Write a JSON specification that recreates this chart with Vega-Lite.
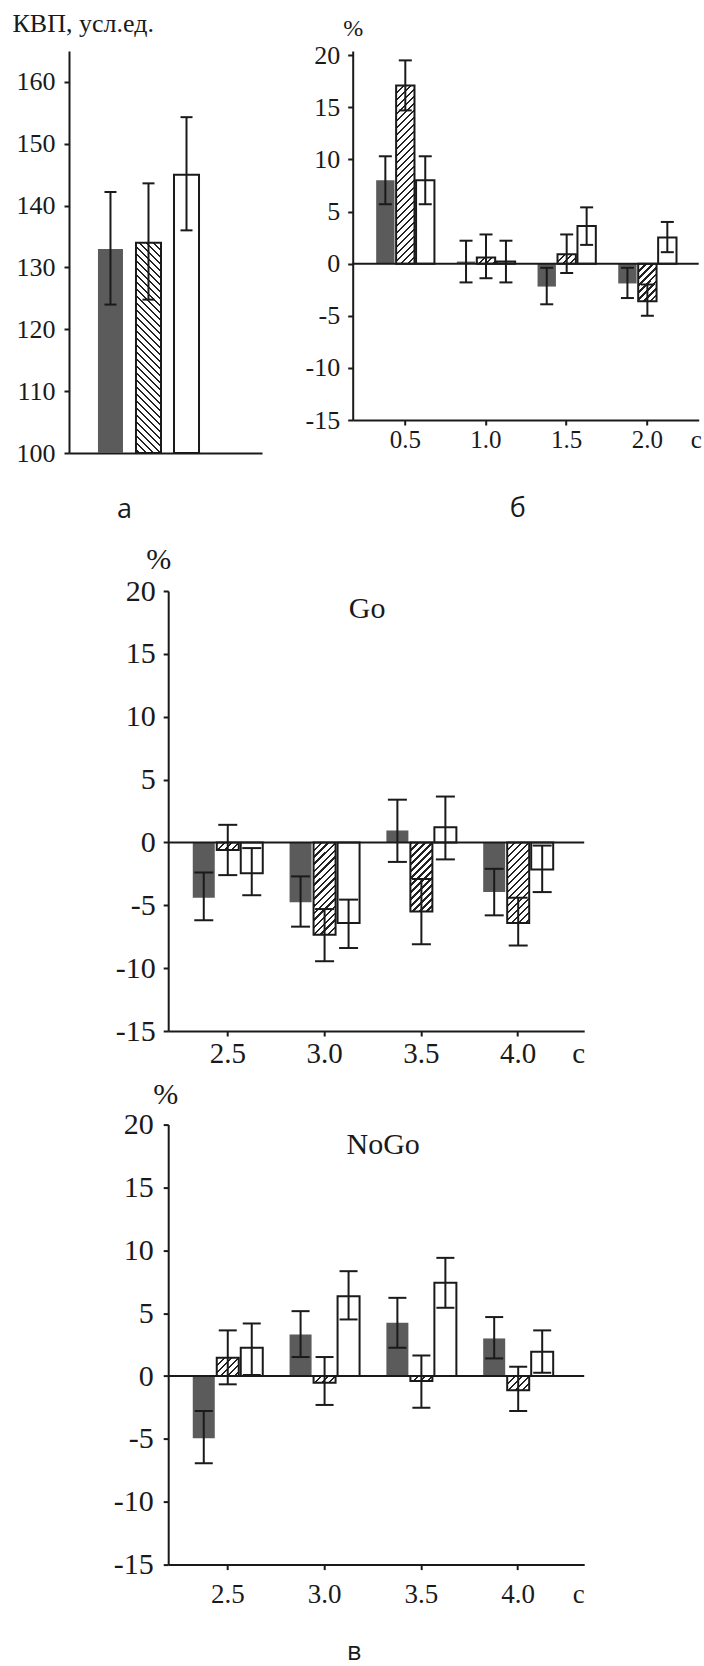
{
  "$schema": "https://vega.github.io/schema/vega-lite/v6.json",
  "padding": {"left": 12, "top": 10, "right": 0, "bottom": 3},
  "background": "white",
  "config": {
    "view": {"stroke": null},
    "axis": {"domainColor": "#1a1a1a", "domainWidth": 2, "tickColor": "#1a1a1a", "tickWidth": 2, "tickSize": 5, "labelColor": "#1a1a1a", "labelFont": "Liberation Serif", "titleFont": "Liberation Serif", "titleColor": "#1a1a1a", "titleFontWeight": "normal", "grid": false, "labelOverlap": false},
    "title": {"font": "Open Sans", "fontWeight": "normal", "color": "#1a1a1a"}
  },
  "params": [{"name": "hatch", "value": [
    {"offset":0,"color":"#222"},{"offset":0.0092,"color":"#222"},{"offset":0.0092,"color":"#fff"},{"offset":0.0292,"color":"#fff"},
    {"offset":0.0292,"color":"#222"},{"offset":0.0383,"color":"#222"},{"offset":0.0383,"color":"#fff"},{"offset":0.0583,"color":"#fff"},
    {"offset":0.0583,"color":"#222"},{"offset":0.0675,"color":"#222"},{"offset":0.0675,"color":"#fff"},{"offset":0.0875,"color":"#fff"},
    {"offset":0.0875,"color":"#222"},{"offset":0.0967,"color":"#222"},{"offset":0.0967,"color":"#fff"},{"offset":0.1167,"color":"#fff"},
    {"offset":0.1167,"color":"#222"},{"offset":0.1258,"color":"#222"},{"offset":0.1258,"color":"#fff"},{"offset":0.1458,"color":"#fff"},
    {"offset":0.1458,"color":"#222"},{"offset":0.155,"color":"#222"},{"offset":0.155,"color":"#fff"},{"offset":0.175,"color":"#fff"},
    {"offset":0.175,"color":"#222"},{"offset":0.1842,"color":"#222"},{"offset":0.1842,"color":"#fff"},{"offset":0.2042,"color":"#fff"},
    {"offset":0.2042,"color":"#222"},{"offset":0.2133,"color":"#222"},{"offset":0.2133,"color":"#fff"},{"offset":0.2333,"color":"#fff"},
    {"offset":0.2333,"color":"#222"},{"offset":0.2425,"color":"#222"},{"offset":0.2425,"color":"#fff"},{"offset":0.2625,"color":"#fff"},
    {"offset":0.2625,"color":"#222"},{"offset":0.2717,"color":"#222"},{"offset":0.2717,"color":"#fff"},{"offset":0.2917,"color":"#fff"},
    {"offset":0.2917,"color":"#222"},{"offset":0.3008,"color":"#222"},{"offset":0.3008,"color":"#fff"},{"offset":0.3208,"color":"#fff"},
    {"offset":0.3208,"color":"#222"},{"offset":0.33,"color":"#222"},{"offset":0.33,"color":"#fff"},{"offset":0.35,"color":"#fff"},
    {"offset":0.35,"color":"#222"},{"offset":0.3592,"color":"#222"},{"offset":0.3592,"color":"#fff"},{"offset":0.3792,"color":"#fff"},
    {"offset":0.3792,"color":"#222"},{"offset":0.3883,"color":"#222"},{"offset":0.3883,"color":"#fff"},{"offset":0.4083,"color":"#fff"},
    {"offset":0.4083,"color":"#222"},{"offset":0.4175,"color":"#222"},{"offset":0.4175,"color":"#fff"},{"offset":0.4375,"color":"#fff"},
    {"offset":0.4375,"color":"#222"},{"offset":0.4467,"color":"#222"},{"offset":0.4467,"color":"#fff"},{"offset":0.4667,"color":"#fff"},
    {"offset":0.4667,"color":"#222"},{"offset":0.4758,"color":"#222"},{"offset":0.4758,"color":"#fff"},{"offset":0.4958,"color":"#fff"},
    {"offset":0.4958,"color":"#222"},{"offset":0.505,"color":"#222"},{"offset":0.505,"color":"#fff"},{"offset":0.525,"color":"#fff"},
    {"offset":0.525,"color":"#222"},{"offset":0.5342,"color":"#222"},{"offset":0.5342,"color":"#fff"},{"offset":0.5542,"color":"#fff"},
    {"offset":0.5542,"color":"#222"},{"offset":0.5633,"color":"#222"},{"offset":0.5633,"color":"#fff"},{"offset":0.5833,"color":"#fff"},
    {"offset":0.5833,"color":"#222"},{"offset":0.5925,"color":"#222"},{"offset":0.5925,"color":"#fff"},{"offset":0.6125,"color":"#fff"},
    {"offset":0.6125,"color":"#222"},{"offset":0.6217,"color":"#222"},{"offset":0.6217,"color":"#fff"},{"offset":0.6417,"color":"#fff"},
    {"offset":0.6417,"color":"#222"},{"offset":0.6508,"color":"#222"},{"offset":0.6508,"color":"#fff"},{"offset":0.6708,"color":"#fff"},
    {"offset":0.6708,"color":"#222"},{"offset":0.68,"color":"#222"},{"offset":0.68,"color":"#fff"},{"offset":0.7,"color":"#fff"},
    {"offset":0.7,"color":"#222"},{"offset":0.7092,"color":"#222"},{"offset":0.7092,"color":"#fff"},{"offset":0.7292,"color":"#fff"},
    {"offset":0.7292,"color":"#222"},{"offset":0.7383,"color":"#222"},{"offset":0.7383,"color":"#fff"},{"offset":0.7583,"color":"#fff"},
    {"offset":0.7583,"color":"#222"},{"offset":0.7675,"color":"#222"},{"offset":0.7675,"color":"#fff"},{"offset":0.7875,"color":"#fff"},
    {"offset":0.7875,"color":"#222"},{"offset":0.7967,"color":"#222"},{"offset":0.7967,"color":"#fff"},{"offset":0.8167,"color":"#fff"},
    {"offset":0.8167,"color":"#222"},{"offset":0.8258,"color":"#222"},{"offset":0.8258,"color":"#fff"},{"offset":0.8458,"color":"#fff"},
    {"offset":0.8458,"color":"#222"},{"offset":0.855,"color":"#222"},{"offset":0.855,"color":"#fff"},{"offset":0.875,"color":"#fff"},
    {"offset":0.875,"color":"#222"},{"offset":0.8842,"color":"#222"},{"offset":0.8842,"color":"#fff"},{"offset":0.9042,"color":"#fff"},
    {"offset":0.9042,"color":"#222"},{"offset":0.9133,"color":"#222"},{"offset":0.9133,"color":"#fff"},{"offset":0.9333,"color":"#fff"},
    {"offset":0.9333,"color":"#222"},{"offset":0.9425,"color":"#222"},{"offset":0.9425,"color":"#fff"},{"offset":0.9625,"color":"#fff"},
    {"offset":0.9625,"color":"#222"},{"offset":0.9717,"color":"#222"},{"offset":0.9717,"color":"#fff"},{"offset":0.9917,"color":"#fff"},
    {"offset":0.9917,"color":"#222"},{"offset":1,"color":"#222"}
  ]}],
  "datasets": {
    "a": [
      {"t":"a","s":"A","v":133,"lo":124,"hi":142.2},
      {"t":"a","s":"B","v":134,"lo":124.8,"hi":143.6},
      {"t":"a","s":"C","v":145,"lo":136,"hi":154.3}
    ],
    "b": [
      {"t":"0.5","s":"A","v":8.0,"lo":5.7,"hi":10.3},
      {"t":"0.5","s":"B","v":17.1,"lo":14.7,"hi":19.5},
      {"t":"0.5","s":"C","v":8.0,"lo":5.7,"hi":10.3},
      {"t":"1.0","s":"A","v":0.2,"lo":-1.8,"hi":2.2},
      {"t":"1.0","s":"B","v":0.6,"lo":-1.4,"hi":2.8},
      {"t":"1.0","s":"C","v":0.2,"lo":-1.8,"hi":2.2},
      {"t":"1.5","s":"A","v":-2.2,"lo":-3.9,"hi":-0.4},
      {"t":"1.5","s":"B","v":0.9,"lo":-0.9,"hi":2.8},
      {"t":"1.5","s":"C","v":3.6,"lo":1.8,"hi":5.4},
      {"t":"2.0","s":"A","v":-1.9,"lo":-3.3,"hi":-0.4},
      {"t":"2.0","s":"B","v":-3.6,"lo":-5.0,"hi":-2.0},
      {"t":"2.0","s":"C","v":2.5,"lo":1.1,"hi":4.0}
    ],
    "go": [
      {"t":"2.5","s":"A","v":-4.4,"lo":-6.2,"hi":-2.4},
      {"t":"2.5","s":"B","v":-0.6,"lo":-2.6,"hi":1.4},
      {"t":"2.5","s":"C","v":-2.45,"lo":-4.2,"hi":-0.45},
      {"t":"3.0","s":"A","v":-4.75,"lo":-6.7,"hi":-2.7},
      {"t":"3.0","s":"B","v":-7.35,"lo":-9.45,"hi":-5.3},
      {"t":"3.0","s":"C","v":-6.4,"lo":-8.4,"hi":-4.55},
      {"t":"3.5","s":"A","v":0.95,"lo":-1.55,"hi":3.4},
      {"t":"3.5","s":"B","v":-5.5,"lo":-8.1,"hi":-2.9},
      {"t":"3.5","s":"C","v":1.2,"lo":-1.35,"hi":3.65},
      {"t":"4.0","s":"A","v":-3.95,"lo":-5.8,"hi":-2.1},
      {"t":"4.0","s":"B","v":-6.4,"lo":-8.2,"hi":-4.4},
      {"t":"4.0","s":"C","v":-2.15,"lo":-3.95,"hi":-0.25}
    ],
    "nogo": [
      {"t":"2.5","s":"A","v":-4.95,"lo":-6.94,"hi":-2.78},
      {"t":"2.5","s":"B","v":1.46,"lo":-0.66,"hi":3.63},
      {"t":"2.5","s":"C","v":2.25,"lo":0.08,"hi":4.18},
      {"t":"3.0","s":"A","v":3.31,"lo":1.51,"hi":5.16},
      {"t":"3.0","s":"B","v":-0.53,"lo":-2.3,"hi":1.51},
      {"t":"3.0","s":"C","v":6.35,"lo":4.5,"hi":8.34},
      {"t":"3.5","s":"A","v":4.24,"lo":2.25,"hi":6.22},
      {"t":"3.5","s":"B","v":-0.4,"lo":-2.52,"hi":1.64},
      {"t":"3.5","s":"C","v":7.41,"lo":5.43,"hi":9.4},
      {"t":"4.0","s":"A","v":2.99,"lo":1.4,"hi":4.69},
      {"t":"4.0","s":"B","v":-1.14,"lo":-2.78,"hi":0.74},
      {"t":"4.0","s":"C","v":1.93,"lo":0.26,"hi":3.63}
    ]
  },
  "spacing": 22,
  "resolve": {"scale": {"xOffset": "independent"}},
  "vconcat": [
    {
      "bounds": "flush",
      "spacing": 90.7,
      "resolve": {"scale": {"xOffset": "independent"}},
      "hconcat": [
        {
          "width": 193, "height": 402,
          "data": {"name": "a"},
          "layer": [
            {
              "mark": {"type": "bar", "strokeWidth": 2},
              "encoding": {
                "x": {"field": "t", "type": "nominal", "scale": {"paddingInner": 0, "paddingOuter": 0.455, "align": 0.315},
                      "axis": {"labels": false, "ticks": false, "title": "а", "titleFont": "Open Sans", "titleFontSize": 27, "titleX": 55, "titleY": 64, "titleAlign": "center", "titleBaseline": "alphabetic"}},
                "xOffset": {"field": "s", "type": "nominal", "scale": {"paddingInner": 0.342, "paddingOuter": 0}},
                "y": {"field": "v", "type": "quantitative", "scale": {"domain": [100, 165], "nice": false, "zero": false},
                      "axis": {"values": [100, 110, 120, 130, 140, 150, 160], "labelFontSize": 26, "labelPadding": 9, "title": "КВП, усл.ед.", "titleAngle": 0, "titleAlign": "left", "titleBaseline": "alphabetic", "titleX": -57, "titleY": -20, "titleFontSize": 26}},
                "y2": {"datum": 100},
                "fill": {"value": {"expr": "datum.s == 'A' ? '#5b5b5b' : datum.s == 'C' ? '#ffffff' : {gradient: 'linear', x1: 1, y1: 0, x2: 1 - 25*240/(625 + pow((datum.v-100)*6.1846, 2)), y2: (datum.v-100)*6.1846*240/(625 + pow((datum.v-100)*6.1846, 2)), stops: hatch}"}},
                "stroke": {"condition": {"test": "datum.s == 'A'", "value": "transparent"}, "value": "#1a1a1a"}
              }
            },
            {
              "mark": {"type": "rule", "strokeWidth": 2, "color": "#1a1a1a"},
              "encoding": {
                "x": {"field": "t", "type": "nominal"},
                "xOffset": {"field": "s", "type": "nominal"},
                "y": {"field": "lo", "type": "quantitative"},
                "y2": {"field": "hi"}
              }
            },
            {
              "mark": {"type": "tick", "size": 12, "thickness": 2, "color": "#1a1a1a", "opacity": 1},
              "encoding": {
                "x": {"field": "t", "type": "nominal"},
                "xOffset": {"field": "s", "type": "nominal"},
                "y": {"field": "lo", "type": "quantitative"}
              }
            },
            {
              "mark": {"type": "tick", "size": 12, "thickness": 2, "color": "#1a1a1a", "opacity": 1},
              "encoding": {
                "x": {"field": "t", "type": "nominal"},
                "xOffset": {"field": "s", "type": "nominal"},
                "y": {"field": "hi", "type": "quantitative"}
              }
            }
          ]
        },
        {
          "width": 346, "height": 369,
          "data": {"name": "b"},
          "title": {"text": "б", "orient": "bottom", "anchor": "middle", "frame": "group", "fontSize": 27, "baseline": "alphabetic", "offset": 65, "dx": -8},
          "layer": [
            {
              "mark": {"type": "bar", "strokeWidth": 2},
              "encoding": {
                "x": {"field": "t", "type": "nominal", "scale": {"paddingInner": 0.278, "paddingOuter": 0.283, "align": 0.514},
                      "axis": {"labelAngle": 0, "labelFontSize": 25, "labelBaseline": "middle", "labelPadding": 14, "title": "с", "titleX": 343, "titleY": 19, "titleAlign": "center", "titleBaseline": "middle", "titleFontSize": 25}},
                "xOffset": {"field": "s", "type": "nominal", "scale": {"paddingInner": 0.08, "paddingOuter": 0}},
                "y": {"field": "v", "type": "quantitative", "scale": {"domain": [-15, 20.4], "nice": false, "zero": false},
                      "axis": {"values": [-15, -10, -5, 0, 5, 10, 15, 20], "labelExpr": "'' + datum.value", "labelFontSize": 26, "labelPadding": 8, "title": "%", "titleAngle": 0, "titleAlign": "center", "titleBaseline": "middle", "titleX": 0, "titleY": -23, "titleFontSize": 24}},
                "y2": {"datum": 0},
                "fill": {"value": {"expr": "datum.s == 'A' ? '#5b5b5b' : datum.s == 'C' ? '#ffffff' : {gradient: 'linear', x1: 0, y1: 0, x2: 18.4*240/(338.6 + pow(datum.v*10.424, 2)), y2: abs(datum.v)*10.424*240/(338.6 + pow(datum.v*10.424, 2)), stops: hatch}"}},
                "stroke": {"condition": {"test": "datum.s == 'A'", "value": "transparent"}, "value": "#1a1a1a"}
              }
            },
            {
              "data": {"values": [{}]},
              "mark": {"type": "rule", "strokeWidth": 2, "color": "#1a1a1a"},
              "encoding": {"y": {"datum": 0, "type": "quantitative"}}
            },
            {
              "mark": {"type": "rule", "strokeWidth": 2, "color": "#1a1a1a"},
              "encoding": {
                "x": {"field": "t", "type": "nominal"},
                "xOffset": {"field": "s", "type": "nominal"},
                "y": {"field": "lo", "type": "quantitative"},
                "y2": {"field": "hi"}
              }
            },
            {
              "mark": {"type": "tick", "size": 13, "thickness": 2, "color": "#1a1a1a", "opacity": 1},
              "encoding": {
                "x": {"field": "t", "type": "nominal"},
                "xOffset": {"field": "s", "type": "nominal"},
                "y": {"field": "lo", "type": "quantitative"}
              }
            },
            {
              "mark": {"type": "tick", "size": 13, "thickness": 2, "color": "#1a1a1a", "opacity": 1},
              "encoding": {
                "x": {"field": "t", "type": "nominal"},
                "xOffset": {"field": "s", "type": "nominal"},
                "y": {"field": "hi", "type": "quantitative"}
              }
            }
          ]
        }
      ]
    },
    {
      "spacing": 43.2,
      "resolve": {"scale": {"xOffset": "independent"}},
      "hconcat": [
        {"width": 1, "height": 1, "data": {"values": []}, "mark": "point", "encoding": {}},
        {
          "bounds": "flush",
          "spacing": 93.6,
          "resolve": {"scale": {"xOffset": "independent"}},
          "title": {"text": "в", "orient": "bottom", "anchor": "middle", "fontSize": 25, "baseline": "alphabetic", "offset": 52, "dx": 5},
          "vconcat": [
            {
              "width": 416, "height": 440,
              "data": {"name": "go"},
              "title": {"text": "Go", "orient": "top", "anchor": "middle", "frame": "group", "font": "Liberation Serif", "fontSize": 30, "baseline": "alphabetic", "offset": -103.6, "dx": -9},
              "layer": [
                {
                  "mark": {"type": "bar", "strokeWidth": 2},
                  "encoding": {
                    "x": {"field": "t", "type": "nominal", "scale": {"paddingInner": 0.277, "paddingOuter": 0.287, "align": 0.442},
                          "axis": {"labelAngle": 0, "labelFontSize": 29, "labelBaseline": "middle", "labelPadding": 17, "title": "с", "titleX": 410, "titleY": 22, "titleAlign": "center", "titleBaseline": "middle", "titleFontSize": 29}},
                    "xOffset": {"field": "s", "type": "nominal", "scale": {"paddingInner": 0.083, "paddingOuter": 0}},
                    "y": {"field": "v", "type": "quantitative", "scale": {"domain": [-15, 20], "nice": false, "zero": false},
                          "axis": {"values": [-15, -10, -5, 0, 5, 10, 15, 20], "labelExpr": "'' + datum.value", "labelFontSize": 30, "labelPadding": 8, "title": "%", "titleAngle": 0, "titleAlign": "center", "titleBaseline": "middle", "titleX": -10, "titleY": -32, "titleFontSize": 30}},
                    "y2": {"datum": 0},
                    "fill": {"value": {"expr": "datum.s == 'A' ? '#5b5b5b' : datum.s == 'C' ? '#ffffff' : {gradient: 'linear', x1: 0, y1: 0, x2: 22*240/(484 + pow(datum.v*12.571, 2)), y2: abs(datum.v)*12.571*240/(484 + pow(datum.v*12.571, 2)), stops: hatch}"}},
                    "stroke": {"condition": {"test": "datum.s == 'A'", "value": "transparent"}, "value": "#1a1a1a"}
                  }
                },
                {
                  "data": {"values": [{}]},
                  "mark": {"type": "rule", "strokeWidth": 2, "color": "#1a1a1a"},
                  "encoding": {"y": {"datum": 0, "type": "quantitative"}}
                },
                {
                  "mark": {"type": "rule", "strokeWidth": 2, "color": "#1a1a1a"},
                  "encoding": {
                    "x": {"field": "t", "type": "nominal"},
                    "xOffset": {"field": "s", "type": "nominal"},
                    "y": {"field": "lo", "type": "quantitative"},
                    "y2": {"field": "hi"}
                  }
                },
                {
                  "mark": {"type": "tick", "size": 19, "thickness": 2, "color": "#1a1a1a", "opacity": 1},
                  "encoding": {
                    "x": {"field": "t", "type": "nominal"},
                    "xOffset": {"field": "s", "type": "nominal"},
                    "y": {"field": "lo", "type": "quantitative"}
                  }
                },
                {
                  "mark": {"type": "tick", "size": 19, "thickness": 2, "color": "#1a1a1a", "opacity": 1},
                  "encoding": {
                    "x": {"field": "t", "type": "nominal"},
                    "xOffset": {"field": "s", "type": "nominal"},
                    "y": {"field": "hi", "type": "quantitative"}
                  }
                }
              ]
            },
            {
              "width": 416, "height": 440,
              "data": {"name": "nogo"},
              "title": {"text": "NoGo", "orient": "top", "anchor": "middle", "frame": "group", "font": "Liberation Serif", "fontSize": 30, "baseline": "alphabetic", "offset": -104, "dx": 7},
              "layer": [
                {
                  "mark": {"type": "bar", "strokeWidth": 2},
                  "encoding": {
                    "x": {"field": "t", "type": "nominal", "scale": {"paddingInner": 0.277, "paddingOuter": 0.287, "align": 0.442},
                          "axis": {"labelAngle": 0, "labelFontSize": 27, "labelBaseline": "middle", "labelPadding": 25, "title": "с", "titleX": 410, "titleY": 30, "titleAlign": "center", "titleBaseline": "middle", "titleFontSize": 27}},
                    "xOffset": {"field": "s", "type": "nominal", "scale": {"paddingInner": 0.083, "paddingOuter": 0}},
                    "y": {"field": "v", "type": "quantitative", "scale": {"domain": [-15, 20], "nice": false, "zero": false},
                          "axis": {"values": [-15, -10, -5, 0, 5, 10, 15, 20], "labelExpr": "'' + datum.value", "labelFontSize": 30, "labelPadding": 10, "title": "%", "titleAngle": 0, "titleAlign": "center", "titleBaseline": "middle", "titleX": -3, "titleY": -30, "titleFontSize": 30}},
                    "y2": {"datum": 0},
                    "fill": {"value": {"expr": "datum.s == 'A' ? '#5b5b5b' : datum.s == 'C' ? '#ffffff' : {gradient: 'linear', x1: 0, y1: 0, x2: 22*240/(484 + pow(datum.v*12.571, 2)), y2: abs(datum.v)*12.571*240/(484 + pow(datum.v*12.571, 2)), stops: hatch}"}},
                    "stroke": {"condition": {"test": "datum.s == 'A'", "value": "transparent"}, "value": "#1a1a1a"}
                  }
                },
                {
                  "data": {"values": [{}]},
                  "mark": {"type": "rule", "strokeWidth": 2, "color": "#1a1a1a"},
                  "encoding": {"y": {"datum": 0, "type": "quantitative"}}
                },
                {
                  "mark": {"type": "rule", "strokeWidth": 2, "color": "#1a1a1a"},
                  "encoding": {
                    "x": {"field": "t", "type": "nominal"},
                    "xOffset": {"field": "s", "type": "nominal"},
                    "y": {"field": "lo", "type": "quantitative"},
                    "y2": {"field": "hi"}
                  }
                },
                {
                  "mark": {"type": "tick", "size": 18, "thickness": 2, "color": "#1a1a1a", "opacity": 1},
                  "encoding": {
                    "x": {"field": "t", "type": "nominal"},
                    "xOffset": {"field": "s", "type": "nominal"},
                    "y": {"field": "lo", "type": "quantitative"}
                  }
                },
                {
                  "mark": {"type": "tick", "size": 18, "thickness": 2, "color": "#1a1a1a", "opacity": 1},
                  "encoding": {
                    "x": {"field": "t", "type": "nominal"},
                    "xOffset": {"field": "s", "type": "nominal"},
                    "y": {"field": "hi", "type": "quantitative"}
                  }
                }
              ]
            }
          ]
        }
      ]
    }
  ]
}
